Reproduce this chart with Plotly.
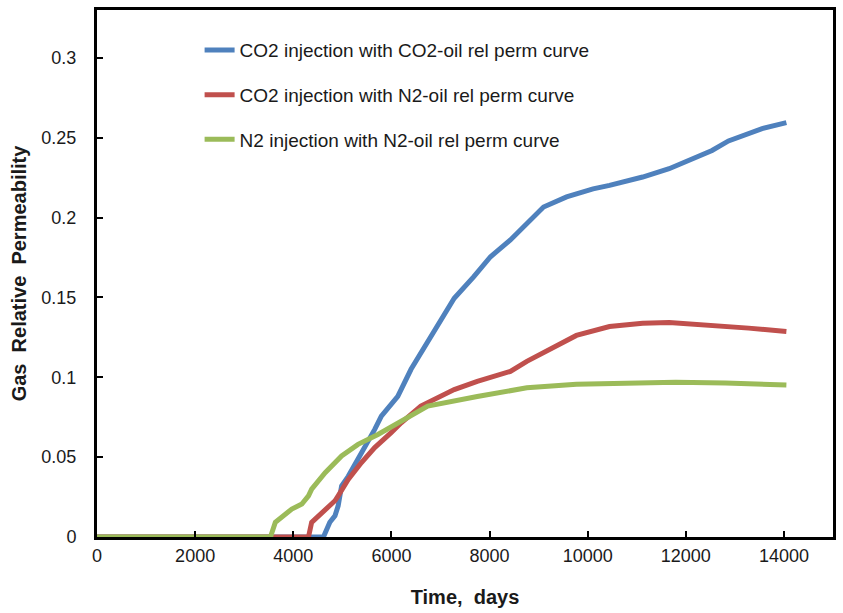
import plotly.graph_objects as go

# ---- data ----
blue_x = [0, 4615, 4745, 4850, 4915, 4985, 5120, 5320, 5525, 5660, 5795, 6130, 6400, 6940,
          7280, 7680, 8020, 8425, 8695, 9100, 9570, 10110, 10445, 11120, 11660, 12130, 12535,
          12870, 13555, 14050]
blue_y = [0, 0, 0.0092, 0.0133, 0.0195, 0.032, 0.038, 0.0487, 0.059, 0.0674, 0.0757, 0.088,
          0.105, 0.132, 0.1495, 0.163, 0.1755, 0.186, 0.194, 0.2066, 0.213, 0.218, 0.2202,
          0.2254, 0.2306, 0.2368, 0.242, 0.248, 0.2557, 0.2595]

red_x = [0, 4310, 4375, 4510, 4680, 4850, 4915, 5120, 5390, 5660, 5995, 6200, 6600, 7280,
         7750, 8425, 8760, 9300, 9770, 10445, 11120, 11660, 12470, 13280, 14050]
red_y = [0, 0, 0.0092, 0.0133, 0.0185, 0.0227, 0.0258, 0.036, 0.0466, 0.056, 0.0653, 0.0715,
         0.082, 0.0923, 0.0975, 0.1037, 0.110, 0.119, 0.1262, 0.1318, 0.1339, 0.1343, 0.1329,
         0.1308, 0.1287]

green_x = [0, 3535, 3635, 3805, 3970, 4175, 4310, 4375, 4650, 4985, 5320, 5725, 6100, 6740,
           7750, 8760, 9770, 10785, 11795, 12805, 14050]
green_y = [0, 0, 0.0092, 0.0133, 0.0175, 0.0206, 0.0258, 0.030, 0.0403, 0.0507, 0.058, 0.0642,
           0.071, 0.082, 0.088, 0.0934, 0.0957, 0.0965, 0.0969, 0.0965, 0.0952]

names = ["CO2 injection with CO2-oil rel perm curve",
         "CO2 injection with N2-oil rel perm curve",
         "N2 injection with N2-oil rel perm curve"]
colors = ["#4F81BD", "#C0504D", "#9BBB59"]

x_ticks = [0, 2000, 4000, 6000, 8000, 10000, 12000, 14000]
y_ticks = [0, 0.05, 0.1, 0.15, 0.2, 0.25, 0.3]
y_ticklabels = ["0", "0.05", "0.1", "0.15", "0.2", "0.25", "0.3"]

fig = go.Figure()
for i, (xs, ys) in enumerate([(blue_x, blue_y), (red_x, red_y), (green_x, green_y)]):
    fig.add_trace(go.Scatter(x=xs, y=ys, mode="lines", name=names[i],
                             legendgroup=f"g{i}",
                             line=dict(color=colors[i], width=5)))

font_family = "Liberation Sans, Arial, sans-serif"
fig.update_layout(
    width=843, height=613,
    margin=dict(l=97, r=7, t=8, b=75),
    paper_bgcolor="white", plot_bgcolor="white",
    font=dict(family=font_family, color="#1a1a1a", size=18),
    showlegend=True,
    legend=dict(x=0.1394, y=0.960, xanchor="left", yanchor="top",
                bgcolor="rgba(0,0,0,0)", tracegroupgap=17,
                font=dict(size=19, color="#1a1a1a")),
    xaxis=dict(range=[0, 15000], tickvals=x_ticks, ticktext=[str(v) for v in x_ticks],
               ticks="inside", ticklen=6, tickwidth=2, tickcolor="black",
               showline=True, linecolor="black", linewidth=3, mirror=True,
               showgrid=False, zeroline=False,
               tickfont=dict(size=18),
               title=dict(text="<b>Time,  days</b>", font=dict(size=20), standoff=26)),
    yaxis=dict(range=[0, 0.33], tickvals=y_ticks, ticktext=y_ticklabels,
               ticks="inside", ticklen=6, tickwidth=2, tickcolor="black",
               showline=True, linecolor="black", linewidth=3, mirror=True,
               showgrid=False, zeroline=False,
               tickfont=dict(size=18), ticklabelstandoff=14,
               title=dict(text="<b>Gas  Relative  Permeability</b>", font=dict(size=20),
                          standoff=10)),
)

fig.write_html("out.html")
